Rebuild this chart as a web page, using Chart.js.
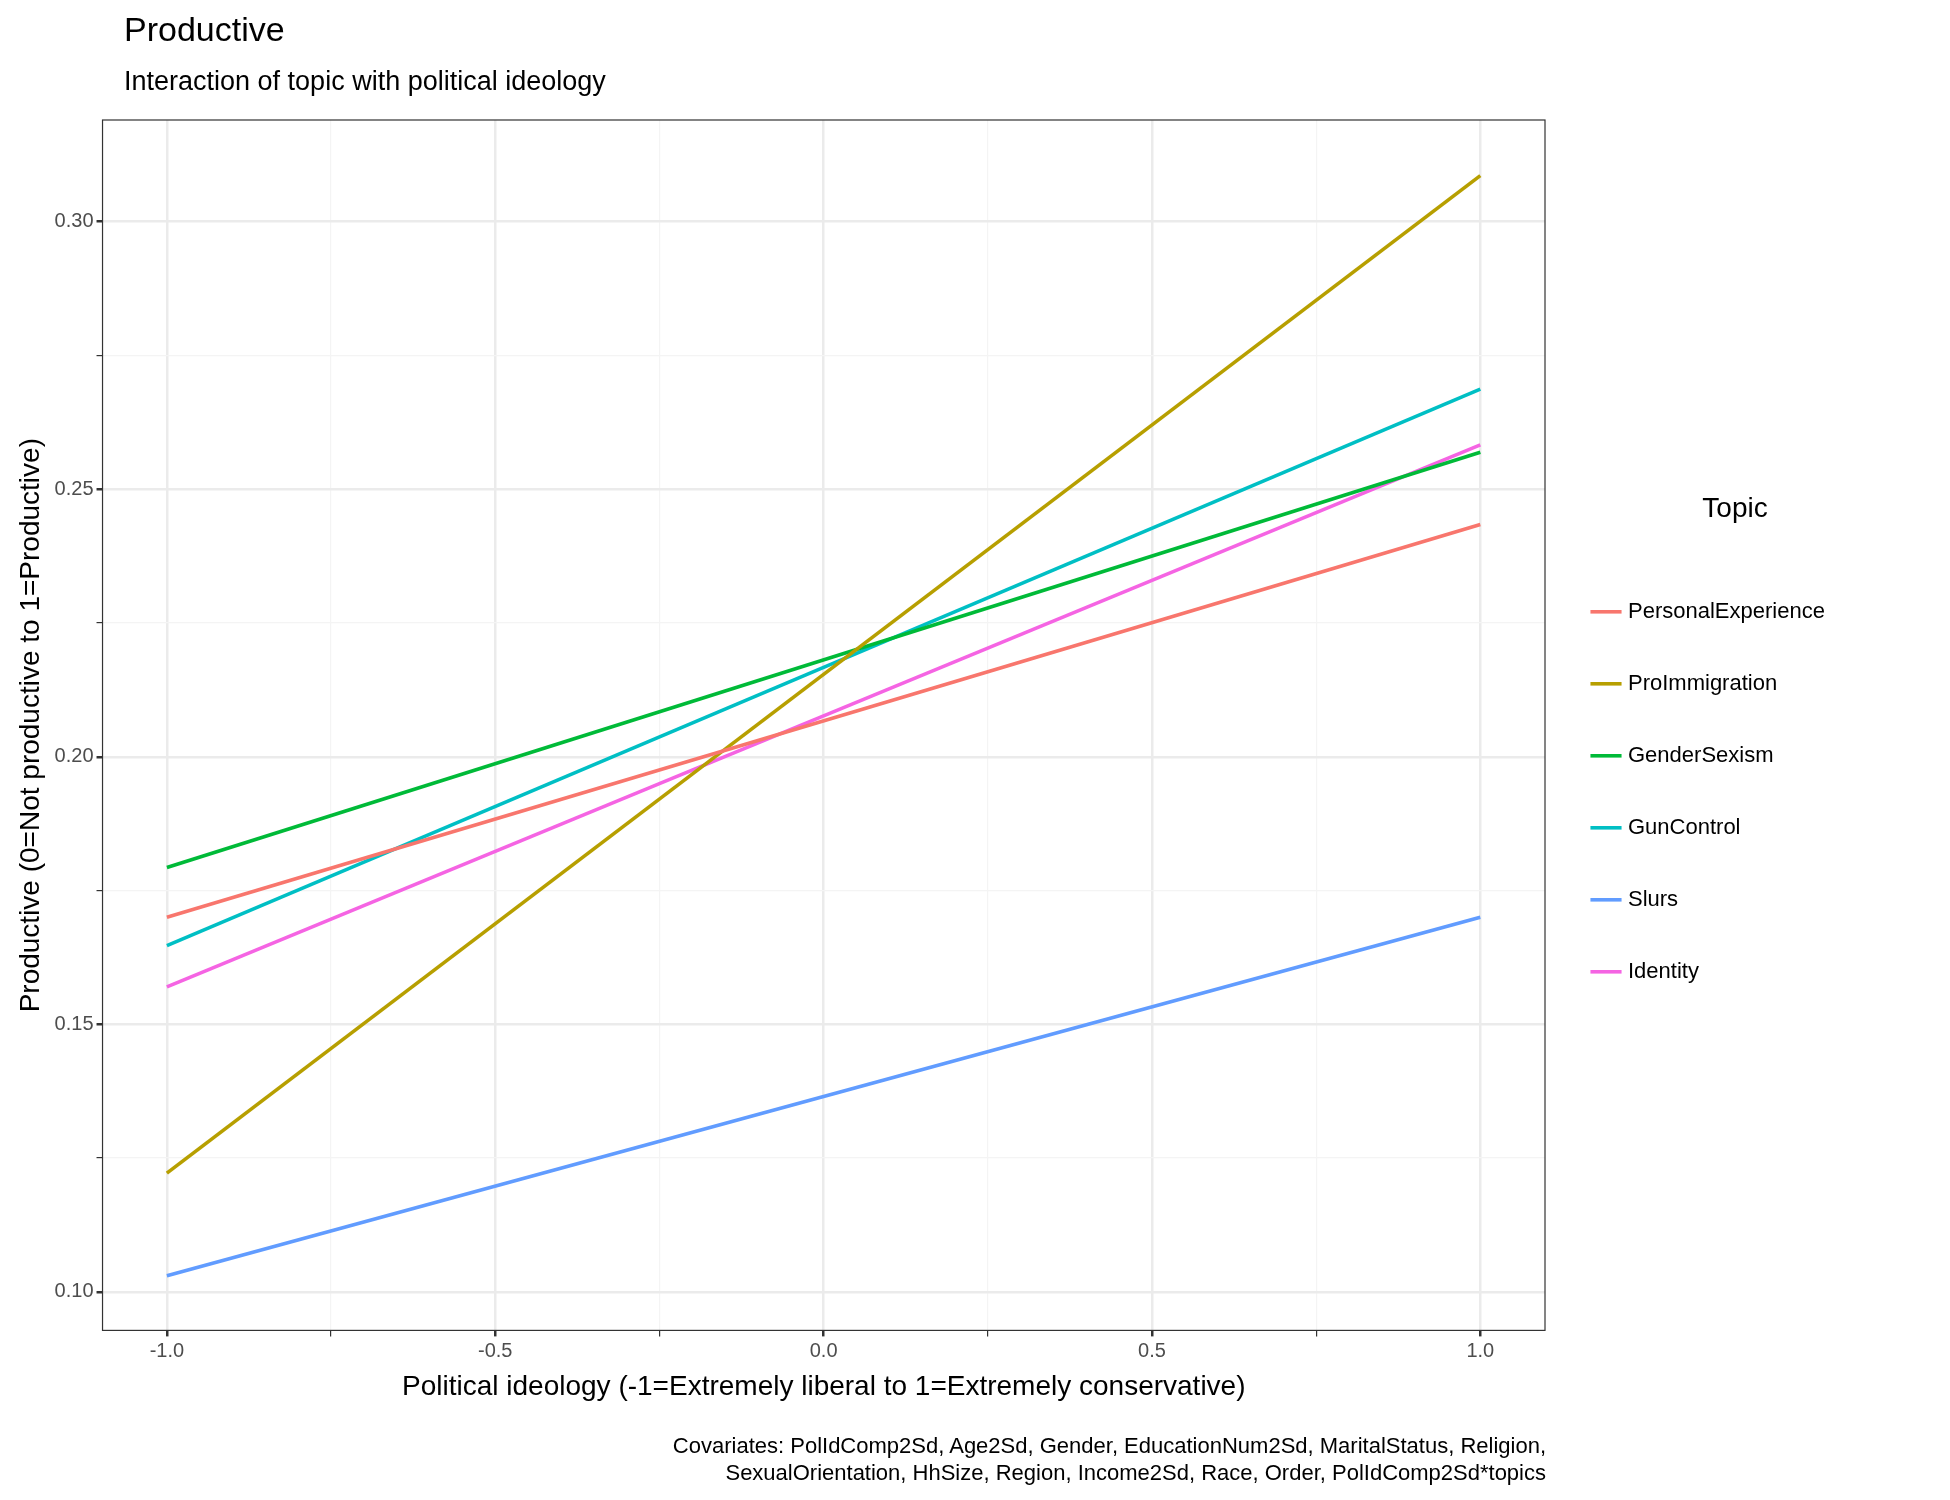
<!DOCTYPE html>
<html>
<head>
<meta charset="utf-8">
<script src="https://cdn.jsdelivr.net/npm/chart.js@4"></script>
<style>
  body { margin: 0; background: #fff; }
  #wrap { position: relative; width: 1950px; height: 1500px; }
  #caption { position: absolute; right: 404px; top: 1432px; text-align: right;
    font: 22px "Liberation Sans", Arial, sans-serif; color: #000; line-height: 27px; }
  #title { position: absolute; left: 124px; top: 10px; font: 34px "Liberation Sans", Arial, sans-serif; color: #000; }
  #subtitle { position: absolute; left: 124px; top: 66px; font: 27px "Liberation Sans", Arial, sans-serif; color: #000; }
</style>
</head>
<body>
<div id="wrap">
  <canvas id="chart" width="1950" height="1500"></canvas>
  <div id="title">Productive</div>
  <div id="subtitle">Interaction of topic with political ideology</div>
  <div id="caption">Covariates: PolIdComp2Sd, Age2Sd, Gender, EducationNum2Sd, MaritalStatus, Religion,<br>SexualOrientation, HhSize, Region, Income2Sd, Race, Order, PolIdComp2Sd*topics</div>
</div>
<script>
const xValues = [-1, 1];
const topics = ["PersonalExperience", "ProImmigration", "GenderSexism", "GunControl", "Slurs", "Identity"];
const colors = ["#F8766D", "#B79F00", "#00BA38", "#00BFC4", "#619CFF", "#F564E3"];
const startValues = [0.170, 0.1222, 0.1793, 0.1647, 0.1030, 0.1570];
const endValues = [0.2434, 0.3086, 0.2569, 0.2687, 0.170, 0.2583];
const xTicks = [-1, -0.75, -0.5, -0.25, 0, 0.25, 0.5, 0.75, 1];
const yTicks = [0.10, 0.125, 0.15, 0.175, 0.20, 0.225, 0.25, 0.275, 0.30];

const font = "'Liberation Sans', Arial, sans-serif";

const datasets = topics.map((t, i) => ({
    label: t,
    data: [
        { x: xValues[0], y: startValues[i] },
        { x: xValues[1], y: endValues[i] },
    ],
    borderColor: colors[i],
    backgroundColor: colors[i],
    borderWidth: 3.6,
    pointRadius: 0,
}));

const frame = {
    id: "frame",
    afterDraw(chart) {
        const a = chart.chartArea;
        const c = chart.ctx;
        c.save();
        c.strokeStyle = "#333";
        c.lineWidth = 1.2;
        c.strokeRect(a.left, a.top, a.right - a.left, a.bottom - a.top);
        c.restore();
    },
};

const onStep = (v, n) => Math.abs(v * n - Math.round(v * n)) < 1e-6;

new Chart(document.getElementById("chart"), {
    type: "line",
    data: { datasets },
    plugins: [frame],
    options: {
        responsive: false,
        animation: false,
        layout: { padding: { left: 10, right: 25, top: 120, bottom: 92 } },
        plugins: {
            legend: {
                position: "right",
                title: { display: true, text: "Topic", color: "#000", font: { family: font, size: 28 }, padding: { bottom: 22 } },
                labels: {
                    usePointStyle: true, pointStyle: "line", boxWidth: 40, padding: 50,
                    color: "#000", font: { family: font, size: 22 },
                },
            },
            tooltip: { enabled: false },
        },
        scales: {
            x: {
                type: "linear", min: -1.098, max: 1.0985,
                afterBuildTicks: (s) => { s.ticks = xTicks.map((v) => ({ value: v })); },
                ticks: {
                    color: "#4d4d4d", font: { family: font, size: 20 },
                    callback: (v) => (onStep(v, 2) ? v.toFixed(1) : ""),
                },
                grid: {
                    color: (ctx) => (onStep(ctx.tick.value, 2) ? "#ebebeb" : "#f4f4f4"),
                    lineWidth: (ctx) => (onStep(ctx.tick.value, 2) ? 2.5 : 1.2),
                    tickColor: "#333", tickLength: 6,
                },
                border: { display: false },
                title: { display: true, text: "Political ideology (-1=Extremely liberal to 1=Extremely conservative)", color: "#000", font: { family: font, size: 28 } },
            },
            y: {
                type: "linear", min: 0.0928, max: 0.319,
                afterBuildTicks: (s) => { s.ticks = yTicks.map((v) => ({ value: v })); },
                ticks: {
                    color: "#4d4d4d", font: { family: font, size: 20 },
                    callback: (v) => (onStep(v, 20) ? v.toFixed(2) : ""),
                },
                grid: {
                    color: (ctx) => (onStep(ctx.tick.value, 20) ? "#ebebeb" : "#f4f4f4"),
                    lineWidth: (ctx) => (onStep(ctx.tick.value, 20) ? 2.5 : 1.2),
                    tickColor: "#333", tickLength: 6,
                },
                border: { display: false },
                title: { display: true, text: "Productive (0=Not productive to 1=Productive)", color: "#000", font: { family: font, size: 28 } },
            },
        },
    },
    // widen the legend column so the panel ends where the reference's does
});
Chart.getChart("chart").legend.afterFit = function () {};
(function () {
    const ch = Chart.getChart("chart");
    const fit = ch.legend.fit.bind(ch.legend);
    ch.legend.fit = function () { fit(); this.width = 380; this.minSize && (this.minSize.width = 380); };
    ch.update();
})();
</script>
</body>
</html>
